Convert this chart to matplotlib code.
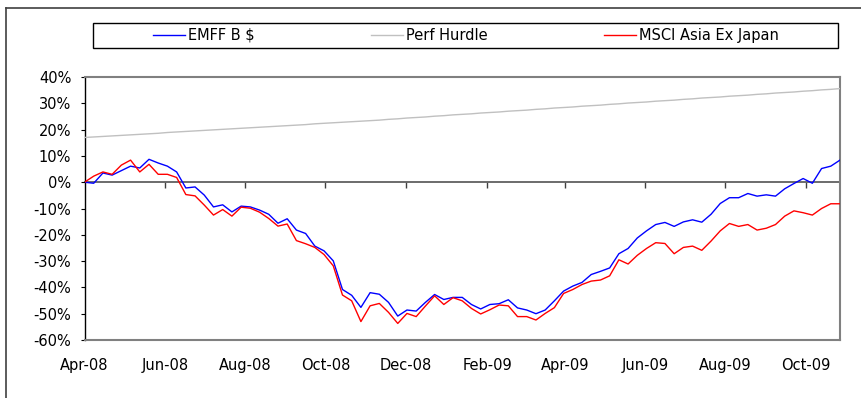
import matplotlib
matplotlib.use('Agg')
import matplotlib.pyplot as plt
import matplotlib.dates as mdates
import pandas as pd
from matplotlib.patches import Rectangle
from matplotlib.lines import Line2D
from matplotlib.ticker import FuncFormatter

plt.rcParams['font.family'] = ['DejaVu Sans']
plt.rcParams['font.size'] = 10.5

# --- weekly cumulative returns (%) ---
weeks = pd.date_range('2008-04-01', periods=83, freq='7D')

emff = [0.0, -0.4, 3.5, 2.7, 4.4, 6.1, 5.4, 8.7, 7.3, 6.1,
        3.9, -2.2, -1.8, -4.9, -9.4, -8.6, -11.3, -9.1, -9.4, -10.6,
        -12.2, -15.6, -13.9, -18.2, -19.5, -24.3, -26.1, -29.9, -40.8, -43.0,
        -47.6, -42.0, -42.6, -45.7, -50.9, -48.6, -49.0, -45.7, -42.7, -44.6,
        -43.8, -43.8, -46.5, -48.2, -46.5, -46.2, -44.7, -47.8, -48.6, -50.0,
        -48.6, -45.1, -41.4, -39.5, -38.1, -35.1, -33.9, -32.6, -27.2, -25.2,
        -21.2, -18.5, -16.1, -15.3, -16.8, -15.1, -14.3, -15.2, -12.2, -8.1,
        -5.9, -5.9, -4.3, -5.3, -4.8, -5.3, -2.5, -0.5, 1.4, -0.4,
        5.2, 6.1, 8.4]

hurdle = [17.0, 17.2, 17.4, 17.6, 17.8, 18.0, 18.2, 18.4, 18.6, 18.9,
          19.1, 19.3, 19.5, 19.7, 19.9, 20.1, 20.3, 20.5, 20.7, 20.9,
          21.1, 21.3, 21.5, 21.7, 21.9, 22.2, 22.4, 22.6, 22.8, 23.0,
          23.2, 23.4, 23.6, 23.9, 24.1, 24.4, 24.6, 24.8, 25.1, 25.3,
          25.6, 25.8, 26.0, 26.3, 26.5, 26.7, 27.0, 27.2, 27.4, 27.7,
          27.9, 28.2, 28.4, 28.6, 28.9, 29.1, 29.3, 29.6, 29.8, 30.1,
          30.3, 30.5, 30.8, 31.0, 31.2, 31.5, 31.7, 32.0, 32.2, 32.4,
          32.7, 32.9, 33.1, 33.4, 33.6, 33.9, 34.1, 34.3, 34.6, 34.8,
          35.1, 35.3, 35.6]

msci = [0.0, 2.3, 3.9, 3.0, 6.5, 8.4, 3.9, 6.8, 3.0, 3.0,
        1.8, -4.7, -5.2, -8.7, -12.5, -10.4, -12.9, -9.5, -9.9, -11.4,
        -13.8, -16.7, -15.9, -22.2, -23.4, -24.8, -27.5, -31.8, -42.9, -45.1,
        -53.0, -47.0, -46.1, -49.5, -53.7, -49.9, -51.1, -47.1, -43.2, -46.5,
        -43.9, -45.1, -48.0, -50.1, -48.5, -46.7, -47.0, -51.1, -51.1, -52.4,
        -49.9, -47.7, -42.3, -40.8, -38.9, -37.6, -37.2, -35.6, -29.5, -31.1,
        -27.8, -25.2, -23.0, -23.3, -27.2, -24.8, -24.3, -25.9, -22.4, -18.5,
        -15.7, -16.8, -16.1, -18.2, -17.5, -16.1, -12.9, -10.9, -11.6, -12.5,
        -10.0, -8.2, -8.2]

series_names = ['EMFF B $', 'Perf Hurdle', 'MSCI Asia Ex Japan']
series_colors = ['#0000FF', '#C0C0C0', '#FF0000']

label_months = pd.date_range('2008-04-01', '2009-10-01', freq='2MS')

W, H = 861, 398
fig = plt.figure(figsize=(W / 100, H / 100), dpi=100)
ax = fig.add_axes([84.5 / W, 1 - 340 / H, (840 - 84.5) / W, (340 - 77) / H])

ax.plot(weeks, emff, color=series_colors[0], lw=1.0, label=series_names[0], zorder=3)
ax.plot(weeks, hurdle, color=series_colors[1], lw=1.0, label=series_names[1], zorder=3)
ax.plot(weeks, msci, color=series_colors[2], lw=1.0, label=series_names[2], zorder=4)

ax.set_xlim(weeks[0], weeks[-1])
ax.set_ylim(-60, 40)
ax.set_yticks(range(-60, 41, 10))
ax.yaxis.set_major_formatter(FuncFormatter(lambda v, p: f'{v:.0f}%'))
ax.tick_params(axis='y', direction='out', length=3, width=0.8, pad=6.5, colors='black')

ax.set_xticks(label_months)
ax.xaxis.set_major_formatter(mdates.DateFormatter('%b-%y'))
ax.tick_params(axis='x', length=0, pad=13)

for side in ['top', 'right', 'bottom']:
    ax.spines[side].set_color('#808080')
    ax.spines[side].set_linewidth(1.5)
ax.spines['left'].set_color('black')
ax.spines['left'].set_linewidth(1.0)

# category axis crossing at 0% with its own tick marks
zero_pos = (0 - (-60)) / 100
sec = ax.secondary_xaxis(zero_pos)
sec.set_alignment('bottom')
sec.set_xticks(label_months[1:])
sec.tick_params(axis='x', direction='out', length=4, width=1.0, color='#404040',
                labelbottom=False, labeltop=False)
sec.spines['bottom'].set_color('#606060')
sec.spines['bottom'].set_linewidth(1.3)
sec.spines['top'].set_visible(False)

# legend box across the top
fig.add_artist(Rectangle((93 / W, 1 - 48 / H), 745 / W, 25 / H, transform=fig.transFigure,
                         facecolor='white', edgecolor='black', lw=1.0))
handles, labels = ax.get_legend_handles_labels()
fig.legend(handles, labels, loc='center', bbox_to_anchor=(466 / W, 1 - 35.5 / H),
           ncol=3, frameon=False, columnspacing=8.0, handlelength=2.2,
           handletextpad=0.2, borderaxespad=0)

# outer chart border
fig.add_artist(Line2D([6 / W, 1], [1 - 7.5 / H, 1 - 7.5 / H], transform=fig.transFigure,
                      color='#404040', lw=1.2))
fig.add_artist(Line2D([6 / W, 6 / W], [0, 1 - 7.5 / H], transform=fig.transFigure,
                      color='#404040', lw=1.2))

fig.savefig('out.png', dpi=100)
